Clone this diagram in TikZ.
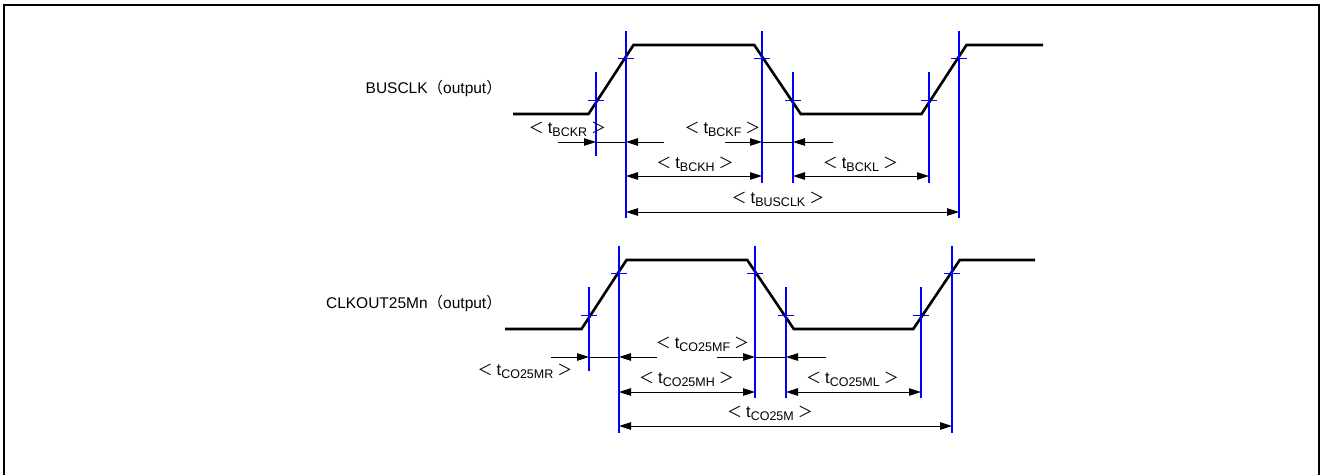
\documentclass[tikz,border=0pt]{standalone}
\usepackage{fontspec}
\setmainfont{Liberation Sans}
\newfontfamily\cjk{Noto Sans CJK JP}
\usetikzlibrary{arrows.meta}
\newcommand\tlab[1]{{\cjk\fontsize{15}{15}\selectfont ＜}\kern4pt t\raisebox{-3pt}{\fontsize{12.5}{12.5}\selectfont #1}\kern4pt{\cjk\fontsize{15}{15}\selectfont ＞}}
\begin{document}
\begin{tikzpicture}[x=1pt,y=-1pt,
  wave/.style={line width=2.6pt, line join=miter},
  guide/.style={blue, line width=1.4pt},
  tick/.style={blue, line width=1.2pt},
  dim/.style={line width=0.9pt, -{Triangle[length=12pt,width=7.5pt]}},
  dimboth/.style={line width=0.9pt, {Triangle[length=12pt,width=7.5pt]}-{Triangle[length=12pt,width=7.5pt]}},
  thin/.style={line width=0.9pt},
  lab/.style={font=\fontsize{16.5}{16.5}\selectfont, inner sep=0pt, anchor=base},
  sig/.style={font=\fontsize{15.5}{15.5}\selectfont, inner sep=0pt, anchor=base east}]
\useasboundingbox (0,0) rectangle (1321,474);
% frame
\draw[line width=2.5pt] (4,480) -- (4,5) -- (1319,5) -- (1319,480);

% ---------------- BUSCLK ----------------
\node[sig] (s1) at (502,93) {BUSCLK{\cjk （}output{\cjk ）}};
\draw[wave] (513,114) -- (588.5,114) -- (633.5,45) -- (754.25,45) -- (800.75,114)
  -- (921.5,114) -- (966.5,45) -- (1043,45);

\coordinate (a1t) at (596,72);  \coordinate (a1b) at (596,156);
\coordinate (a2t) at (626,31);  \coordinate (a2b) at (626,218);
\coordinate (a3t) at (762,31);  \coordinate (a3b) at (762,183);
\coordinate (a4t) at (793,72);  \coordinate (a4b) at (793,183);
\coordinate (a5t) at (929,72);  \coordinate (a5b) at (929,183);
\coordinate (a6t) at (959,31);  \coordinate (a6b) at (959,218);
\foreach \n in {a1,a2,a3,a4,a5,a6} \draw[guide] (\n t) -- (\n b);
\foreach \x/\y in {596/100.5, 626/58.5, 762/58.5, 793/100.5, 929/100.5, 959/58.5}
  \draw[tick] (\x-8,\y) -- (\x+8,\y);

\coordinate (ra) at (0,142);
\coordinate (rb) at (0,176);
\coordinate (rc) at (0,212);
\coordinate (ar1) at (558,142); \coordinate (ar2) at (664,142);
\coordinate (af1) at (725,142); \coordinate (af2) at (833,142);
\draw[dim] (ar1) -- (a1t |- ra);
\draw[dim] (ar2) -- (a2t |- ra);
\draw[thin] (a1t |- ra) -- (a2t |- ra);
\draw[dim] (af1) -- (a3t |- ra);
\draw[dim] (af2) -- (a4t |- ra);
\draw[thin] (a3t |- ra) -- (a4t |- ra);
\draw[dimboth] (a2t |- rb) -- (a3t |- rb);
\draw[dimboth] (a4t |- rb) -- (a5t |- rb);
\draw[dimboth] (a2t |- rc) -- (a6t |- rc);

\node[lab] (l1) at (567.5,133.5) {\tlab{BCKR}};
\node[lab] (l2) at (722.5,133.5) {\tlab{BCKF}};
\node[lab] (l3) at (695,168.5) {\tlab{BCKH}};
\node[lab] (l4) at (860.5,168.5) {\tlab{BCKL}};
\node[lab] (l5) at (778,203) {\tlab{BUSCLK}};

% ---------------- CLKOUT25Mn ----------------
\node[sig] (s2) at (502,308) {CLKOUT25Mn{\cjk （}output{\cjk ）}};
\draw[wave] (505,329) -- (581.5,329) -- (626.5,260) -- (747.25,260) -- (793.75,329)
  -- (913.25,329) -- (959.75,260) -- (1035,260);

\coordinate (b1t) at (589,287);  \coordinate (b1b) at (589,371);
\coordinate (b2t) at (619,246);  \coordinate (b2b) at (619,433);
\coordinate (b3t) at (755,246);  \coordinate (b3b) at (755,398);
\coordinate (b4t) at (786,287);  \coordinate (b4b) at (786,398);
\coordinate (b5t) at (921,287);  \coordinate (b5b) at (921,398);
\coordinate (b6t) at (952,246);  \coordinate (b6b) at (952,433);
\foreach \n in {b1,b2,b3,b4,b5,b6} \draw[guide] (\n t) -- (\n b);
\foreach \x/\y in {589/315.5, 619/273.5, 755/273.5, 786/315.5, 921/315.5, 952/273.5}
  \draw[tick] (\x-8,\y) -- (\x+8,\y);

\coordinate (rd) at (0,357);
\coordinate (re) at (0,392);
\coordinate (rf) at (0,426);
\coordinate (br1) at (551,357); \coordinate (br2) at (657,357);
\coordinate (bf1) at (717,357); \coordinate (bf2) at (826,357);
\draw[dim] (br1) -- (b1t |- rd);
\draw[dim] (br2) -- (b2t |- rd);
\draw[thin] (b1t |- rd) -- (b2t |- rd);
\draw[dim] (bf1) -- (b3t |- rd);
\draw[dim] (bf2) -- (b4t |- rd);
\draw[thin] (b3t |- rd) -- (b4t |- rd);
\draw[dimboth] (b2t |- re) -- (b3t |- re);
\draw[dimboth] (b4t |- re) -- (b5t |- re);
\draw[dimboth] (b2t |- rf) -- (b6t |- rf);

\node[lab] (m1) at (525,375.5) {\tlab{CO25MR}};
\node[lab] (m2) at (702.5,348.5) {\tlab{CO25MF}};
\node[lab] (m3) at (686.5,383.5) {\tlab{CO25MH}};
\node[lab] (m4) at (852.5,383.5) {\tlab{CO25ML}};
\node[lab] (m5) at (770,417) {\tlab{CO25M}};
\end{tikzpicture}
\end{document}
